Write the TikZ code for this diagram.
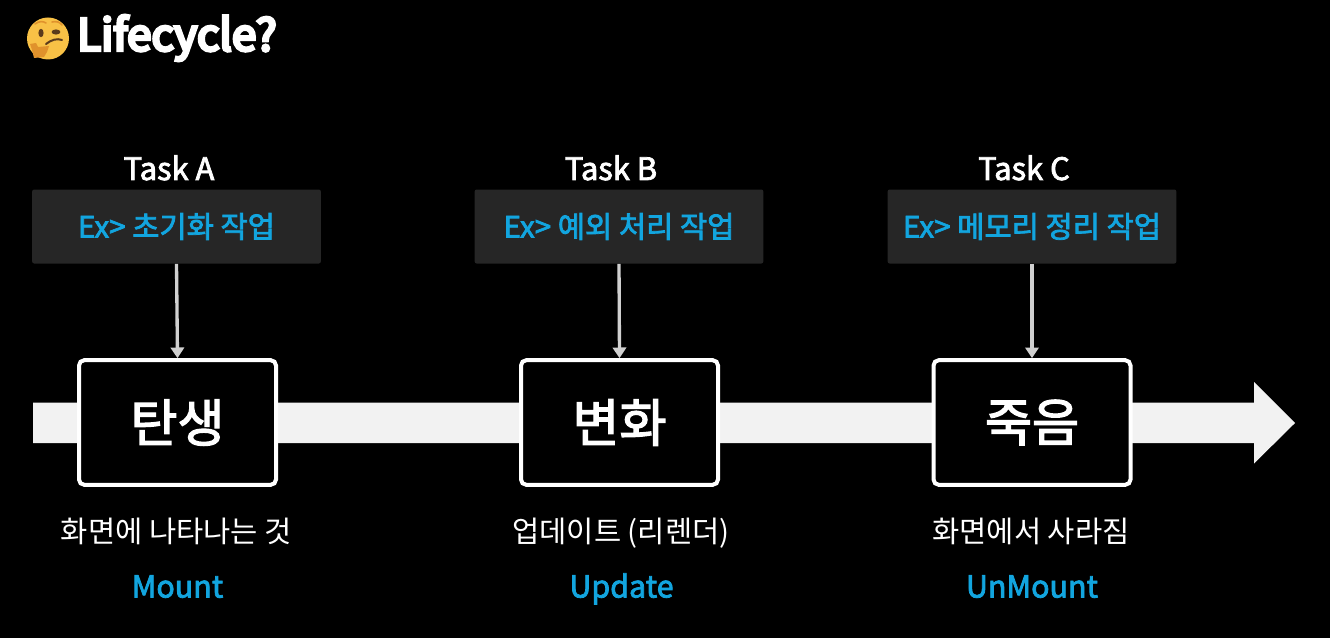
\documentclass[tikz,border=0pt]{standalone}
\usepackage{fontspec}
\setmainfont{Noto Sans CJK KR}
\newfontfamily\heavyfont[FakeBold=7]{Noto Sans CJK KR}
\newfontfamily\mediumfont[FakeBold=2.5]{Noto Sans CJK KR}
\usepackage{xcolor}
\usetikzlibrary{positioning,arrows.meta}
\definecolor{skyblue}{HTML}{12A5DF}
\definecolor{taskgray}{HTML}{262626}
\definecolor{barwhite}{HTML}{F2F2F2}
\definecolor{linkgray}{HTML}{D0D0D0}
\definecolor{thinkyellow}{HTML}{F8C146}
\definecolor{thinkbrown}{HTML}{5A3A1C}
\definecolor{thinkorange}{HTML}{E0922C}

\begin{document}
\begin{tikzpicture}[
    x=0.75pt, y=-0.75pt,
    every node/.style={inner sep=0pt, text=white},
    taskbox/.style={fill=taskgray, rounded corners=1.5pt, minimum width=216.5pt, minimum height=55.5pt, font=\mediumfont\fontsize{22.2pt}{26pt}\selectfont, text=skyblue},
    tasklabel/.style={anchor=base, font=\mediumfont\fontsize{23.2pt}{28pt}\selectfont},
    stagebox/.style={draw=white, line width=3pt, fill=black, rounded corners=4pt, minimum width=147.75pt, minimum height=93.5pt, font=\mediumfont\fontsize{38.4pt}{44pt}\selectfont},
    stagetext/.style={anchor=base, font=\fontsize{22.2pt}{26pt}\selectfont},
    stagename/.style={anchor=base, font=\mediumfont\fontsize{22.8pt}{28pt}\selectfont, text=skyblue},
    tasklink/.style={draw=linkgray, line width=2.5pt, -{Triangle[length=8pt,width=10pt]}}
]
    \fill[black] (0,0) rectangle (1330,638);
    \useasboundingbox (0,0) rectangle (1330,638);
    % title
    \fill[thinkyellow] (48,38.5) circle (21);
    \draw[thinkorange, line width=1.2pt, line cap=round] (35,24) .. controls (39,21) and (43,21) .. (46,23);
    \draw[thinkorange, line width=1.2pt, line cap=round] (52,22) .. controls (56,21) and (60,22) .. (62,25);
    \fill[thinkbrown] (41,33) ellipse (2.6 and 4.2);
    \fill[thinkbrown] (56,32) ellipse (4.4 and 2.6);
    \draw[thinkbrown, line width=1.5pt, line cap=round] (46,44) .. controls (51,40) and (57,38) .. (62,40);
    \fill[thinkorange] (30,44) -- (36,43) -- (38,47) -- (49,46) -- (47,52) -- (44,57) -- (34,58) -- (32,50) -- cycle;
    \node[anchor=west, font=\heavyfont\fontsize{33pt}{38pt}\selectfont] (title) at (77,38) {Lifecycle?};
    % timeline
    \fill[barwhite] (33,402.5) -- (1254,402.5) -- (1254,382) -- (1295,423) -- (1254,463.5) -- (1254,443) -- (33,443) -- cycle;
    % stages
    \node[stagebox] (birth) at (177.5,422.5) {탄생};
    \node[stagebox] (change) at (619.5,422.5) {변화};
    \node[stagebox] (death) at (1032,422.5) {죽음};
    % tasks
    \node[taskbox] (taskA) at (176.5,226.5) {Ex> 초기화 작업};
    \node[taskbox] (taskB) at (619,226.5) {Ex> 예외 처리 작업};
    \node[taskbox] (taskC) at (1032,226.5) {Ex> 메모리 정리 작업};
    \node[tasklabel] (labelA) at (169,180) {Task A};
    \node[tasklabel] (labelB) at (611,180) {Task B};
    \node[tasklabel] (labelC) at (1024,180) {Task C};
    \draw[tasklink] (taskA.south) -- (birth.north);
    \draw[tasklink] (taskB.south) -- (change.north);
    \draw[tasklink] (taskC.south) -- (death.north);
    % captions
    \node[stagetext] (textA) at (176.5,542) {화면에 나타나는 것};
    \node[stagetext] (textB) at (621,542) {업데이트 (리렌더)};
    \node[stagetext] (textC) at (1031,542) {화면에서 사라짐};
    \node[stagename] (nameA) at (177.5,597.5) {Mount};
    \node[stagename] (nameB) at (621.5,597.5) {Update};
    \node[stagename] (nameC) at (1032,597.5) {UnMount};
\end{tikzpicture}
\end{document}
